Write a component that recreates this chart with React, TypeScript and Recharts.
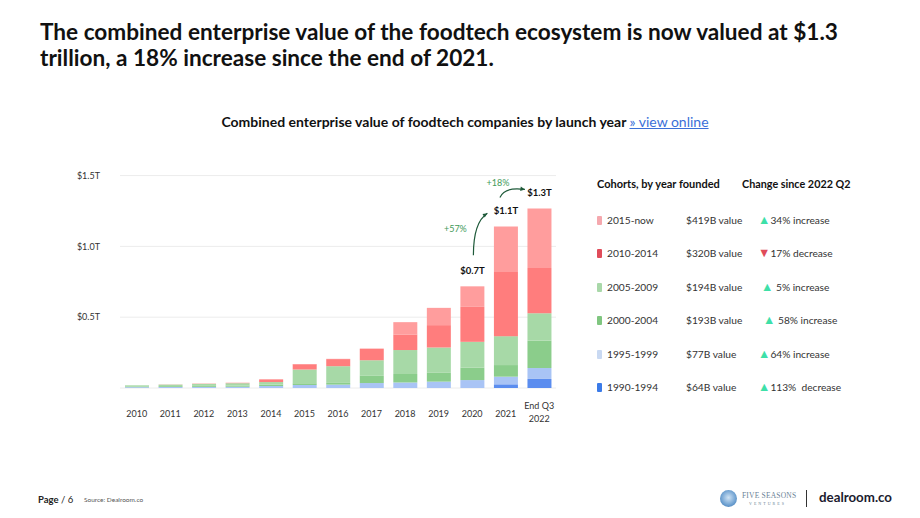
import React from 'react';
import { Bar, BarChart, CartesianGrid, LabelList, XAxis, YAxis } from 'recharts';

const FONT = 'Lato, "Open Sans", sans-serif';

// $B per cohort
const years = ['2010', '2011', '2012', '2013', '2014', '2015', '2016', '2017', '2018', '2019', '2020', '2021', 'End Q3 2022'];
const c1990 = [0, 0, 0, 0, 0, 0, 0, 0, 0, 0, 0, 26, 64];
const c1995 = [6, 7, 8, 9, 14, 22, 24, 35, 39, 45, 56, 54, 77];
const c2000 = [5, 6, 7, 8, 10, 12, 12, 51, 60, 65, 87, 82, 193];
const c2005 = [8, 11, 14, 17, 18, 97, 118, 110, 169, 176, 183, 204, 194];
const c2010 = [0, 1, 2, 3, 19, 36, 50, 80, 110, 158, 247, 453, 320];
const c2015 = [0, 0, 0, 0, 0, 2, 2, 3, 87, 122, 145, 322, 419];
const totalLabels = ['', '', '', '', '', '', '', '', '', '', '$0.7T', '$1.1T', '$1.3T'];
const yTicks = [0, 500, 1000, 1500];

const cohorts = ['2015-now', '2010-2014', '2005-2009', '2000-2004', '1995-1999', '1990-1994'];
const cohortValues = ['$419B value', '$320B value', '$194B value', '$193B value', '$77B value', '$64B value'];
const cohortUp = [true, false, true, true, true, true];
const cohortChange = ['34% increase', '17% decrease', ' 5% increase', ' 58% increase', '64% increase', '113%  decrease'];

const BAR_COLORS = {
  c1990: '#5b8def',
  c1995: '#a9c4f5',
  c2000: '#8bcd8b',
  c2005: '#a7d9a7',
  c2010: '#ff7d7d',
  c2015: '#ff9d9d',
};
const SWATCH = ['#f5a8ae', '#e04c5a', '#a9d8a9', '#80c680', '#c9d9f2', '#3b7be8'];
const TRI_INDENT = [0, 0, 3, 5, 0, 0];
const ARROW = '#1f5a3a';
const PCT = '#3f9a5a';

const data = years.map((year, i) => ({
  year,
  c1990: c1990[i],
  c1995: c1995[i],
  c2000: c2000[i],
  c2005: c2005[i],
  c2010: c2010[i],
  c2015: c2015[i],
  label: totalLabels[i],
}));

function arrowHead(cx: number, cy: number, ex: number, ey: number) {
  const a = Math.atan2(ey - cy, ex - cx);
  const s = 5;
  const p1 = [ex - s * Math.cos(a - 0.45), ey - s * Math.sin(a - 0.45)];
  const p2 = [ex - s * Math.cos(a + 0.45), ey - s * Math.sin(a + 0.45)];
  return `${ex},${ey} ${p1[0]},${p1[1]} ${p2[0]},${p2[1]}`;
}

function TotalLabel(props: any) {
  const { x, y, width, value } = props;
  if (!value) return null;
  const cx = x + width / 2;
  const top = y;
  return (
    <g>
      <text x={cx} y={top - 16} textAnchor="middle" dominantBaseline="central" fontSize={9.5} fontWeight={700} fill="#111" fontFamily={FONT}>
        {value}
      </text>
      {value === '$0.7T' && (
        <g>
          <path d={`M${cx + 1},${top - 31} Q${cx + 1},${top - 64} ${cx + 15},${top - 73}`} stroke={ARROW} strokeWidth={1.2} fill="none" />
          <polygon points={arrowHead(cx + 1, top - 64, cx + 15, top - 73)} fill={ARROW} />
          <text x={cx - 17} y={top - 58} textAnchor="middle" dominantBaseline="central" fontSize={9} fill={PCT} fontFamily={FONT}>+57%</text>
        </g>
      )}
      {value === '$1.1T' && (
        <g>
          <path d={`M${cx - 6},${top - 29} Q${cx - 1},${top - 40} ${cx + 19},${top - 37}`} stroke={ARROW} strokeWidth={1.2} fill="none" />
          <polygon points={arrowHead(cx - 1, top - 40, cx + 19, top - 37)} fill={ARROW} />
          <text x={cx - 8} y={top - 44} textAnchor="middle" dominantBaseline="central" fontSize={9} fill={PCT} fontFamily={FONT}>+18%</text>
        </g>
      )}
    </g>
  );
}

function YearTick(props: any) {
  const { x, y, payload } = props;
  const v: string = payload.value;
  if (v.startsWith('End')) {
    return (
      <text x={x} y={y} textAnchor="middle" fontSize={9} fill="#333" fontFamily={FONT}>
        <tspan x={x} dy={13}>End Q3</tspan>
        <tspan x={x} dy={13}>2022</tspan>
      </text>
    );
  }
  return (
    <text x={x} y={y} dy={21} textAnchor="middle" fontSize={9} fill="#333" fontFamily={FONT}>
      {v}
    </text>
  );
}

function Legend() {
  return (
    <div style={{ position: 'absolute', left: 597, top: 178, fontFamily: FONT, color: '#333' }}>
      <div style={{ position: 'absolute', left: 0, top: -1, fontSize: 11, fontWeight: 700, color: '#111', whiteSpace: 'nowrap' }}>
        Cohorts, by year founded
      </div>
      <div style={{ position: 'absolute', left: 145, top: -1, fontSize: 10.8, fontWeight: 700, color: '#111', whiteSpace: 'nowrap' }}>
        Change since 2022 Q2
      </div>
      {cohorts.map((c, i) => (
        <div key={c} style={{ position: 'absolute', left: 0, top: 36 + i * 33.4, height: 14, width: 280, fontSize: 10.2, whiteSpace: 'pre' }}>
          <span style={{ position: 'absolute', left: 0, top: 2, width: 5, height: 9, background: SWATCH[i], borderRadius: 1 }} />
          <span style={{ position: 'absolute', left: 10, top: 0 }}>{c}</span>
          <span style={{ position: 'absolute', left: 89, top: 0 }}>{cohortValues[i]}</span>
          <span style={{ position: 'absolute', left: 161 + TRI_INDENT[i], top: 0 }}>
            <span style={{ color: cohortUp[i] ? '#3ee0a8' : '#e04c5a', fontSize: 12.5, lineHeight: '12px' }}>{cohortUp[i] ? '▲' : '▼'}</span>
            {cohortChange[i]}
          </span>
        </div>
      ))}
    </div>
  );
}

export default function App() {
  return (
    <div style={{ position: 'absolute', left: 0, top: 0, width: 920, height: 518, background: '#fff', fontFamily: FONT, overflow: 'hidden' }}>
      <div style={{ position: 'absolute', left: 40, top: 19, width: 870, fontSize: 22.6, fontWeight: 700, lineHeight: '26px', color: '#111', whiteSpace: 'nowrap' }}>
        The combined enterprise value of the foodtech ecosystem is now valued at $1.3
        <br />
        trillion, a 18% increase since the end of 2021.
      </div>
      <div style={{ position: 'absolute', left: 0, width: 930, top: 113, textAlign: 'center', fontSize: 14, fontWeight: 700, color: '#111', whiteSpace: 'nowrap' }}>
        Combined enterprise value of foodtech companies by launch year{' '}
        <span style={{ color: '#3b6fd8', fontWeight: 400, textDecoration: 'underline' }}>» view online</span>
      </div>

      <div style={{ position: 'absolute', left: 60, top: 160 }}>
        <BarChart width={510} height={280} data={data} margin={{ top: 15.6, right: 14, bottom: 22, left: 0 }} barSize={24}>
          <CartesianGrid horizontal vertical={false} stroke="#ececec" />
          <XAxis dataKey="year" height={30} tick={<YearTick />} tickLine={false} axisLine={false} interval={0} />
          <YAxis
            width={60}
            domain={[0, 1500]}
            ticks={yTicks}
            tickFormatter={(v: number) => (v === 0 ? '' : `$${(v / 1000).toFixed(1)}T`)}
            tick={{ fontSize: 9, fill: '#333', fontFamily: FONT }}
            tickLine={false}
            axisLine={false}
            tickMargin={14}
          />
          <Bar dataKey="c1990" stackId="a" fill={BAR_COLORS.c1990} isAnimationActive={false} />
          <Bar dataKey="c1995" stackId="a" fill={BAR_COLORS.c1995} isAnimationActive={false} />
          <Bar dataKey="c2000" stackId="a" fill={BAR_COLORS.c2000} isAnimationActive={false} />
          <Bar dataKey="c2005" stackId="a" fill={BAR_COLORS.c2005} isAnimationActive={false} />
          <Bar dataKey="c2010" stackId="a" fill={BAR_COLORS.c2010} isAnimationActive={false} />
          <Bar dataKey="c2015" stackId="a" fill={BAR_COLORS.c2015} isAnimationActive={false}>
            <LabelList dataKey="label" content={<TotalLabel />} />
          </Bar>
        </BarChart>
      </div>

      <Legend />

      <div style={{ position: 'absolute', left: 38, top: 494, fontSize: 9.5, color: '#222', whiteSpace: 'nowrap' }}>
        <span style={{ fontWeight: 700 }}>Page</span> / 6
      </div>
      <div style={{ position: 'absolute', left: 84, top: 496, fontSize: 6.5, color: '#555', whiteSpace: 'nowrap' }}>Source: Dealroom.co</div>

      <div style={{ position: 'absolute', left: 720, top: 490, width: 17, height: 17, borderRadius: '50%', background: 'radial-gradient(circle at 50% 45%, #cfe3f5 0%, #6c9fd0 60%, #2f6aa8 100%)' }} />
      <div style={{ position: 'absolute', left: 742, top: 491, fontSize: 7.5, fontFamily: '"Liberation Serif", serif', color: '#6a7f95', letterSpacing: 0.2, whiteSpace: 'nowrap' }}>
        FIVE SEASONS
      </div>
      <div style={{ position: 'absolute', left: 749, top: 501, fontSize: 4, fontFamily: '"Liberation Serif", serif', color: '#6a7f95', letterSpacing: 2, whiteSpace: 'nowrap' }}>
        VENTURES
      </div>
      <div style={{ position: 'absolute', left: 806, top: 490, width: 1, height: 17, background: '#333' }} />
      <div style={{ position: 'absolute', left: 819, top: 489, fontSize: 13.3, fontWeight: 700, color: '#1b1b2e', whiteSpace: 'nowrap' }}>dealroom.co</div>
    </div>
  );
}
